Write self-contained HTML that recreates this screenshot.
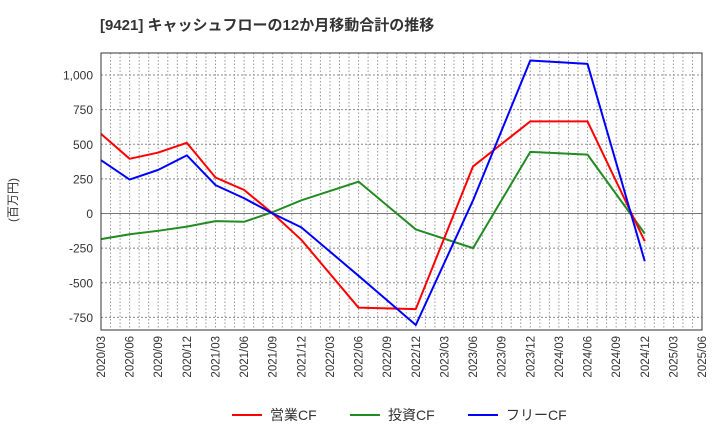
<!DOCTYPE html>
<html><head><meta charset="utf-8"><style>
body{margin:0;background:#fff;font-family:"Liberation Sans","Noto Sans CJK JP",sans-serif}
</style></head><body>
<svg id="c" width="720" height="440" xmlns="http://www.w3.org/2000/svg">
<text x="100" y="30" font-size="15" font-weight="bold" fill="#333" font-family="Liberation Sans, Noto Sans CJK JP, sans-serif">[9421]  キャッシュフローの12か月移動合計の推移</text>
<text transform="translate(17,200) rotate(-90)" font-size="12" fill="#333" text-anchor="middle" font-family="Liberation Sans, Noto Sans CJK JP, sans-serif">(百万円)</text>
<g id="grid"></g><g id="series"></g><g id="axes"></g>
<g font-size="14" fill="#333" font-family="Liberation Sans, Noto Sans CJK JP, sans-serif">
<line x1="232" y1="415" x2="262" y2="415" stroke="#f00" stroke-width="2"/><text x="270" y="420">営業CF</text>
<line x1="350" y1="415" x2="380" y2="415" stroke="#228b22" stroke-width="2"/><text x="388" y="420">投資CF</text>
<line x1="468" y1="415" x2="498" y2="415" stroke="#00f" stroke-width="2"/><text x="506" y="420">フリーCF</text>
</g>
</svg>
<script>
const categories=["2020/03","2020/06","2020/09","2020/12","2021/03","2021/06","2021/09","2021/12","2022/03","2022/06","2022/09","2022/12","2023/03","2023/06","2023/09","2023/12","2024/03","2024/06","2024/09","2024/12","2025/03","2025/06"];
const operatingCF=[575,395,440,510,260,170,0,-190,null,-680,-685,-690,null,340,null,665,null,665,null,-200,null,null];
const investingCF=[-185,-150,-125,-95,-55,-60,10,95,null,230,null,-115,null,-250,null,445,null,425,null,-145,null,null];
const freeCF=[385,245,315,420,205,110,0,-100,null,-450,null,-805,null,95,null,1105,null,1080,null,-345,null,null];
const yTicks=[-750,-500,-250,0,250,500,750,1000];
const yTickLabels=["-750","-500","-250","0","250","500","750","1,000"];
const L=101,R=702,T=53,B=330;
const xs=i=>L+(R-L)*i/(categories.length-1);
const ys=v=>213.5-v*(138.5/1000);
const NS="http://www.w3.org/2000/svg";
function mk(p,t,a){const e=document.createElementNS(NS,t);for(const k in a)e.setAttribute(k,a[k]);p.appendChild(e);return e;}
const g=document.getElementById('grid'),ax=document.getElementById('axes'),s=document.getElementById('series');
const months=(categories.length-1)*3;
for(let m=1;m<months;m++){const x=L+(R-L)*m/months;const e=mk(g,'line',{x1:x,x2:x,y1:T,y2:B,stroke:'#999','stroke-dasharray':'1.5,2','stroke-width':1});

}
yTicks.forEach((v,i)=>{const y=ys(v);const e=mk(g,'line',{x1:L,x2:R,y1:y,y2:y,stroke:v===0?'#777':'#888','stroke-dasharray':v===0?'':'2,2','stroke-width':1});


const t=mk(ax,'text',{x:L-8,y:y+4.5,'text-anchor':'end','font-size':12,fill:'#333'});t.textContent=yTickLabels[i];

});
const fr=mk(ax,'rect',{x:L,y:T,width:R-L,height:B-T,fill:'none',stroke:'#333','stroke-width':1});


categories.forEach((c,i)=>{const x=xs(i);const t=mk(ax,'text',{transform:`translate(${x+4},${B+6}) rotate(-90)`,'text-anchor':'end','font-size':11.5,fill:'#333'});t.textContent=c;

});
function line(d,col,name){const pts=[];d.forEach((v,i)=>{if(v!==null)pts.push(xs(i)+','+ys(v));});
const p=mk(s,'polyline',{points:pts.join(' '),fill:'none',stroke:col,'stroke-width':2,'stroke-linejoin':'round'});

}
line(investingCF,'#228b22','investing-cf-line');
line(operatingCF,'#f00','operating-cf-line');
line(freeCF,'#00f','free-cf-line');
</script>
</body></html>
